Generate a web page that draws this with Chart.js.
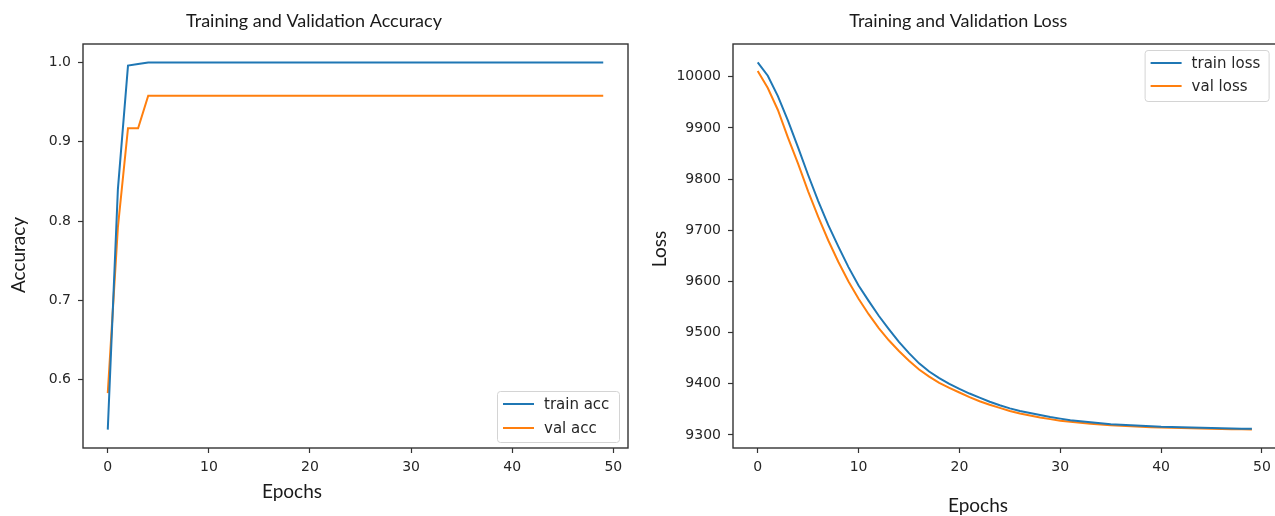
<!DOCTYPE html>
<html>
<head>
<meta charset="utf-8">
<title>Training and Validation Curves</title>
<script src="https://cdn.jsdelivr.net/npm/chart.js@4.4.1/dist/chart.umd.min.js"></script>
<style>
  html, body { margin: 0; padding: 0; background: #ffffff; overflow: hidden; width: 1275px; height: 516px; }
  .panel { position: absolute; top: 0; height: 516px; }
  #accPanel { left: 0; width: 636px; }
  #lossPanel { left: 640px; width: 690px; }
</style>
</head>
<body>
<div class="panel" id="accPanel"><canvas id="accChart" width="636" height="516"></canvas></div>
<div class="panel" id="lossPanel"><canvas id="lossChart" width="690" height="516"></canvas></div>
<script>
// Epoch index for every recorded value
const epochs = [
  0, 1, 2, 3, 4, 5, 6, 7, 8, 9,
  10, 11, 12, 13, 14, 15, 16, 17, 18, 19,
  20, 21, 22, 23, 24, 25, 26, 27, 28, 29,
  30, 31, 32, 33, 34, 35, 36, 37, 38, 39,
  40, 41, 42, 43, 44, 45, 46, 47, 48, 49
];

const trainAcc = [
  0.537, 0.840, 0.996, 0.998, 1.000, 1.000, 1.000, 1.000, 1.000, 1.000,
  1.000, 1.000, 1.000, 1.000, 1.000, 1.000, 1.000, 1.000, 1.000, 1.000,
  1.000, 1.000, 1.000, 1.000, 1.000, 1.000, 1.000, 1.000, 1.000, 1.000,
  1.000, 1.000, 1.000, 1.000, 1.000, 1.000, 1.000, 1.000, 1.000, 1.000,
  1.000, 1.000, 1.000, 1.000, 1.000, 1.000, 1.000, 1.000, 1.000, 1.000
];

const valAcc = [
  0.583, 0.792, 0.917, 0.917, 0.958, 0.958, 0.958, 0.958, 0.958, 0.958,
  0.958, 0.958, 0.958, 0.958, 0.958, 0.958, 0.958, 0.958, 0.958, 0.958,
  0.958, 0.958, 0.958, 0.958, 0.958, 0.958, 0.958, 0.958, 0.958, 0.958,
  0.958, 0.958, 0.958, 0.958, 0.958, 0.958, 0.958, 0.958, 0.958, 0.958,
  0.958, 0.958, 0.958, 0.958, 0.958, 0.958, 0.958, 0.958, 0.958, 0.958
];

const trainLoss = [
  10028, 10002, 9962, 9914, 9862, 9808, 9757, 9710, 9668, 9628,
  9592, 9562, 9533, 9507, 9482, 9460, 9440, 9424, 9411, 9400,
  9390, 9381, 9373, 9365, 9358, 9352, 9347, 9343, 9339, 9335,
  9332, 9329, 9327, 9325, 9323, 9321, 9320, 9319, 9318, 9317,
  9316, 9315.5, 9315, 9314.5, 9314, 9313.5, 9313, 9312.5, 9312, 9312
];

const valLoss = [
  10011, 9978, 9935, 9881, 9830, 9776, 9726, 9680, 9638, 9600,
  9566, 9536, 9509, 9485, 9464, 9445, 9428, 9414, 9402, 9392,
  9383, 9374, 9366, 9359, 9353, 9347, 9342, 9338, 9334, 9331,
  9328, 9326, 9324, 9322, 9320.5, 9319, 9318, 9317, 9316, 9315,
  9314.5, 9314, 9313.5, 9313, 9312.5, 9312, 9311.5, 9311, 9311, 9310.5
];

// Tick positions
const epochTicks = [0, 10, 20, 30, 40, 50];
const accTicks = [0.6, 0.7, 0.8, 0.9, 1.0];
const lossTicks = [9300, 9400, 9500, 9600, 9700, 9800, 9900, 10000];

const BLUE = '#1f77b4';
const ORANGE = '#ff7f0e';
const INK = '#262626';
const TICK_FONT = { family: '"DejaVu Sans", sans-serif', size: 14 };
const LABEL_FAMILY = 'Lato, "Open Sans", sans-serif';

// Closed box around the plotting area
const framePlugin = {
  id: 'frame',
  afterDatasetsDraw(chart, args, opts) {
    const { ctx, chartArea: a } = chart;
    ctx.save();
    ctx.strokeStyle = opts.color;
    ctx.lineWidth = opts.width;
    ctx.strokeRect(a.left, a.top, a.right - a.left, a.bottom - a.top);
    ctx.restore();
  }
};

// Free-standing axis captions (optionally rotated)
const captionPlugin = {
  id: 'captions',
  afterDraw(chart, args, opts) {
    const ctx = chart.ctx;
    (opts.items || []).forEach(it => {
      ctx.save();
      ctx.translate(it.x, it.y);
      ctx.rotate((it.rotate || 0) * Math.PI / 180);
      ctx.font = it.font;
      ctx.fillStyle = it.color;
      ctx.textAlign = 'center';
      ctx.textBaseline = 'middle';
      ctx.fillText(it.text, 0, 0);
      ctx.restore();
    });
  }
};

// Boxed legend placed inside the plotting area
const boxLegendPlugin = {
  id: 'boxLegend',
  afterDraw(chart, args, opts) {
    const { ctx, chartArea: a } = chart;
    const w = opts.width, h = opts.height;
    const x = a.right - opts.insetX - w;
    const y = opts.corner === 'bottom' ? a.bottom - opts.insetY - h : a.top + opts.insetY;
    ctx.save();
    ctx.beginPath();
    if (ctx.roundRect) { ctx.roundRect(x + 0.5, y + 0.5, w, h, 3); } else { ctx.rect(x + 0.5, y + 0.5, w, h); }
    ctx.fillStyle = 'rgba(255,255,255,0.85)';
    ctx.fill();
    ctx.strokeStyle = '#d4d4d4';
    ctx.lineWidth = 1;
    ctx.stroke();
    ctx.font = opts.font;
    ctx.textBaseline = 'middle';
    ctx.textAlign = 'left';
    chart.data.datasets.forEach((ds, i) => {
      const cy = y + opts.firstRow + i * opts.rowGap;
      ctx.strokeStyle = ds.borderColor;
      ctx.lineWidth = ds.borderWidth;
      ctx.beginPath();
      ctx.moveTo(x + 6, cy);
      ctx.lineTo(x + 37, cy);
      ctx.stroke();
      ctx.fillStyle = INK;
      ctx.fillText(ds.label, x + 47, cy + 1);
    });
    ctx.restore();
  }
};

function lineSet(label, values, color) {
  return {
    label: label,
    data: values,
    borderColor: color,
    backgroundColor: color,
    borderWidth: 2,
    pointRadius: 0,
    pointHoverRadius: 0,
    tension: 0,
    fill: false
  };
}

function scaleX() {
  return {
    type: 'linear',
    min: -2.45,
    max: 51.45,
    afterBuildTicks: s => { s.ticks = epochTicks.map(v => ({ value: v })); },
    afterFit: s => { s.height = 68; },
    grid: { drawOnChartArea: false, drawTicks: true, tickLength: 5, tickColor: '#333', tickWidth: 1.2 },
    border: { display: false },
    ticks: { font: TICK_FONT, color: INK, padding: 6, maxRotation: 0, callback: v => String(v) }
  };
}

function scaleY(min, max, tickValues, width, fmt) {
  return {
    type: 'linear',
    min: min,
    max: max,
    afterBuildTicks: s => { s.ticks = tickValues.map(v => ({ value: v })); },
    afterFit: s => { s.width = width; },
    grid: { drawOnChartArea: false, drawTicks: true, tickLength: 5, tickColor: '#333', tickWidth: 1.2 },
    border: { display: false },
    ticks: { font: TICK_FONT, color: INK, padding: 7, callback: fmt }
  };
}

function titleOpts(text) {
  return {
    display: true,
    text: text,
    color: '#1a1a1a',
    font: { family: LABEL_FAMILY, size: 18, weight: 'normal', lineHeight: 1.2 },
    padding: { top: 10, bottom: 12.4 }
  };
}

const labelFont = '19px ' + LABEL_FAMILY;
const legendFont = '15px "DejaVu Sans", sans-serif';

new Chart(document.getElementById('accChart'), {
  type: 'line',
  data: {
    labels: epochs,
    datasets: [lineSet('train acc', trainAcc, BLUE), lineSet('val acc', valAcc, ORANGE)]
  },
  options: {
    responsive: false,
    devicePixelRatio: 1,
    animation: false,
    layout: { padding: { left: 0, right: 8, top: 0, bottom: 0 } },
    scales: {
      x: scaleX(),
      y: scaleY(0.5138, 1.0232, accTicks, 83, v => Number(v).toFixed(1))
    },
    plugins: {
      legend: { display: false },
      tooltip: { enabled: false },
      title: titleOpts('Training and Validation Accuracy'),
      frame: { color: '#333', width: 1.4 },
      boxLegend: { corner: 'bottom', insetX: 9, insetY: 6, width: 122, height: 51,
                   firstRow: 13, rowGap: 24, font: legendFont },
      captions: { items: [
        { text: 'Accuracy', x: 19, y: 255, rotate: -90, font: labelFont, color: '#1a1a1a' },
        { text: 'Epochs', x: 292, y: 492, font: labelFont, color: '#1a1a1a' }
      ] }
    }
  },
  plugins: [framePlugin, boxLegendPlugin, captionPlugin]
});

new Chart(document.getElementById('lossChart'), {
  type: 'line',
  data: {
    labels: epochs,
    datasets: [lineSet('train loss', trainLoss, BLUE), lineSet('val loss', valLoss, ORANGE)]
  },
  options: {
    responsive: false,
    devicePixelRatio: 1,
    animation: false,
    layout: { padding: { left: 0, right: 53.4, top: 0, bottom: 0 } },
    scales: {
      x: scaleX(),
      y: scaleY(9274.6, 10063.9, lossTicks, 93, v => String(v))
    },
    plugins: {
      legend: { display: false },
      tooltip: { enabled: false },
      title: titleOpts('Training and Validation Loss'),
      frame: { color: '#333', width: 1.4 },
      boxLegend: { corner: 'top', insetX: 8, insetY: 6, width: 124, height: 51,
                   firstRow: 13, rowGap: 23, font: legendFont },
      captions: { items: [
        { text: 'Loss', x: 20, y: 249, rotate: -90, font: labelFont, color: '#1a1a1a' },
        { text: 'Epochs', x: 338, y: 506, font: labelFont, color: '#1a1a1a' }
      ] }
    }
  },
  plugins: [framePlugin, boxLegendPlugin, captionPlugin]
});
</script>
</body>
</html>
